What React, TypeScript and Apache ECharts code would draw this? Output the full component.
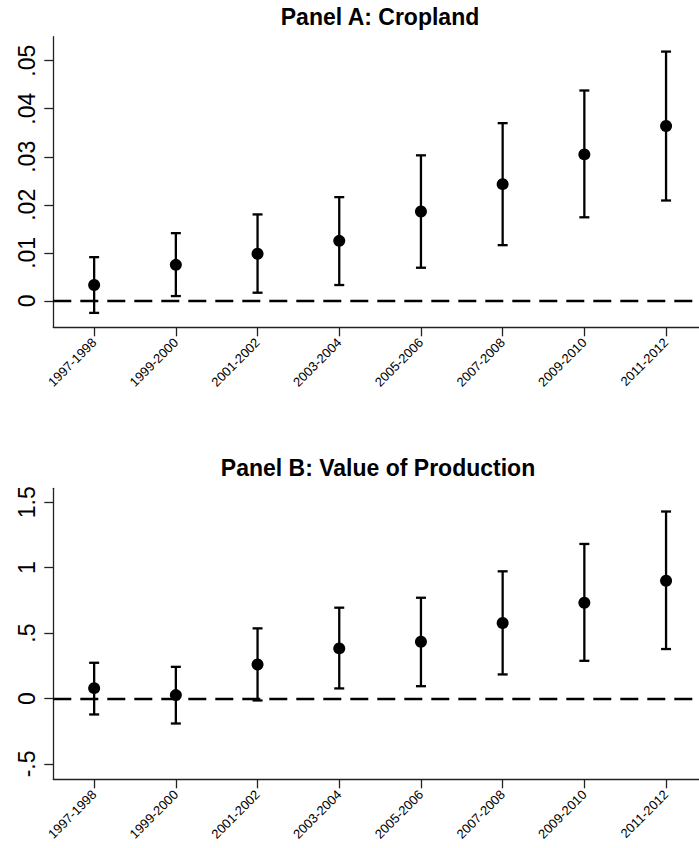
import React, { useEffect, useRef } from "react";
import * as echarts from "echarts";

const categories = [
  "1997-1998",
  "1999-2000",
  "2001-2002",
  "2003-2004",
  "2005-2006",
  "2007-2008",
  "2009-2010",
  "2011-2012",
];

// Panel A: Cropland
const cropEst = [0.0033, 0.0075, 0.0098, 0.0125, 0.0186, 0.0243, 0.0305, 0.0364];
const cropLo = [-0.0025, 0.001, 0.0017, 0.0033, 0.0069, 0.0116, 0.0174, 0.0209];
const cropHi = [0.0091, 0.0141, 0.018, 0.0216, 0.0303, 0.037, 0.0438, 0.0519];
const cropTicks = [0, 0.01, 0.02, 0.03, 0.04, 0.05];
const cropRange = [-0.0055, 0.055];

// Panel B: Value of Production
const prodEst = [0.079, 0.026, 0.26, 0.383, 0.434, 0.577, 0.732, 0.9];
const prodLo = [-0.122, -0.191, -0.015, 0.077, 0.094, 0.184, 0.288, 0.378];
const prodHi = [0.273, 0.242, 0.536, 0.694, 0.77, 0.972, 1.181, 1.429];
const prodTicks = [-0.5, 0, 0.5, 1, 1.5];
const prodRange = [-0.6175, 1.6064];

const titleA = "Panel A: Cropland";
const titleB = "Panel B: Value of Production";

const FONT = '"Liberation Sans", Arial, Helvetica, sans-serif';
const AXIS_COLOR = "#222";

function fmt(v: number): string {
  const s = String(Number(v.toFixed(4)));
  if (s.startsWith("0.")) return s.slice(1);
  if (s.startsWith("-0.")) return "-" + s.slice(2);
  return s;
}

function errRender(params: any, api: any) {
  const x = api.value(0);
  const lo = api.value(1);
  const hi = api.value(2);
  const top = api.coord([x, hi]);
  const bot = api.coord([x, lo]);
  const hw = 5;
  const st = { stroke: "#000", lineWidth: 2.3 };
  return {
    type: "group",
    children: [
      { type: "line", shape: { x1: top[0], y1: top[1], x2: bot[0], y2: bot[1] }, style: st },
      { type: "line", shape: { x1: top[0] - hw, y1: top[1], x2: top[0] + hw, y2: top[1] }, style: st },
      { type: "line", shape: { x1: bot[0] - hw, y1: bot[1], x2: bot[0] + hw, y2: bot[1] }, style: st },
    ],
  };
}

function xAxisFor(gridIndex: number) {
  return {
    type: "category",
    gridIndex,
    data: categories,
    boundaryGap: true,
    axisLine: { show: true, onZero: false, lineStyle: { color: AXIS_COLOR, width: 1.3 } },
    axisTick: { show: true, alignWithLabel: true, length: 9, lineStyle: { color: AXIS_COLOR, width: 1.3 } },
    axisLabel: {
      rotate: 45,
      interval: 0,
      margin: 13,
      fontSize: 13,
      color: "#000",
      fontFamily: FONT,
    },
    splitLine: { show: false },
  };
}

function yAxisFor(gridIndex: number, range: number[], ticks: number[]) {
  return {
    type: "value",
    gridIndex,
    min: range[0],
    max: range[1],
    axisLine: { show: true, onZero: false, lineStyle: { color: AXIS_COLOR, width: 1.3 } },
    axisTick: {
      show: true,
      length: 9,
      customValues: ticks,
      lineStyle: { color: AXIS_COLOR, width: 1.3 },
    },
    axisLabel: {
      customValues: ticks,
      rotate: 90,
      margin: 15,
      fontSize: 23,
      color: "#000",
      fontFamily: FONT,
      formatter: (v: number) => fmt(v),
    },
    splitLine: { show: false },
  };
}

const zeroLine = {
  silent: true,
  symbol: ["none", "none"],
  label: { show: false },
  emphasis: { disabled: true },
  lineStyle: { color: "#000", width: 2.4, type: [18, 9], opacity: 1 },
  data: [{ yAxis: 0 }],
};

export default function App() {
  const ref = useRef<HTMLDivElement>(null);
  useEffect(() => {
    if (!ref.current) return;
    const chart = echarts.init(ref.current, null, { renderer: "svg" });
    const option: any = {
      animation: false,
      backgroundColor: "#fff",
      grid: [
        { left: 53.3, top: 36.7, width: 653.6, height: 290.6, outerBoundsMode: "none", containLabel: false },
        { left: 53.3, top: 488.3, width: 653.6, height: 291, outerBoundsMode: "none", containLabel: false },
      ],
      xAxis: [xAxisFor(0), xAxisFor(1)],
      yAxis: [yAxisFor(0, cropRange, cropTicks), yAxisFor(1, prodRange, prodTicks)],
      graphic: [
        {
          type: "text",
          x: 380,
          y: 17.2,
          style: {
            text: titleA,
            font: `bold 23px ${FONT}`,
            fill: "#000",
            align: "center",
            verticalAlign: "middle",
          },
        },
        {
          type: "text",
          x: 378,
          y: 468.3,
          style: {
            text: titleB,
            font: `bold 23px ${FONT}`,
            fill: "#000",
            align: "center",
            verticalAlign: "middle",
          },
        },
      ],
      series: [
        {
          type: "custom",
          xAxisIndex: 0,
          yAxisIndex: 0,
          renderItem: errRender,
          encode: { x: 0, y: [1, 2] },
          data: categories.map((_, i) => [i, cropLo[i], cropHi[i]]),
          z: 2,
        },
        {
          type: "scatter",
          xAxisIndex: 0,
          yAxisIndex: 0,
          symbol: "circle",
          symbolSize: 12,
          itemStyle: { color: "#000", opacity: 1 },
          data: cropEst,
          markLine: zeroLine,
          z: 3,
        },
        {
          type: "custom",
          xAxisIndex: 1,
          yAxisIndex: 1,
          renderItem: errRender,
          encode: { x: 0, y: [1, 2] },
          data: categories.map((_, i) => [i, prodLo[i], prodHi[i]]),
          z: 2,
        },
        {
          type: "scatter",
          xAxisIndex: 1,
          yAxisIndex: 1,
          symbol: "circle",
          symbolSize: 12,
          itemStyle: { color: "#000", opacity: 1 },
          data: prodEst,
          markLine: zeroLine,
          z: 3,
        },
      ],
    };
    chart.setOption(option);
    return () => chart.dispose();
  }, []);
  return (
    <div
      ref={ref}
      style={{ position: "absolute", left: 0, top: 0, width: 699, height: 848, background: "#fff" }}
    />
  );
}
